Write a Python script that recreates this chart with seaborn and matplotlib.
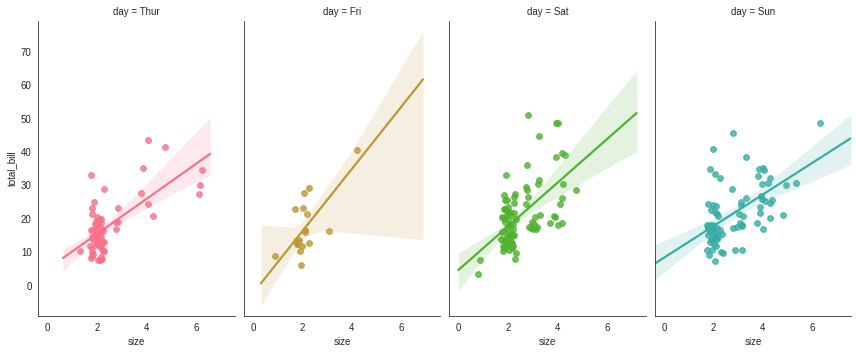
import numpy as np
import matplotlib
matplotlib.use("Agg")
import matplotlib.pyplot as plt
import seaborn as sns

days = ["Thur", "Fri", "Sat", "Sun"]

# x positions as displayed (party size with jitter) and total bill
thur_x = [1.31, 1.76, 2.28, 1.88, 1.79, 1.79, 2.85, 2.76, 2.83, 2.77,
          4.06, 3.86, 3.78, 4.06, 4.26, 4.74, 6.23, 6.16, 6.12,
          2.02, 2.12, 2.18, 1.95, 2.05, 2.15, 1.90, 2.00, 2.10, 1.97,
          1.75, 1.82, 2.25, 2.20, 1.92, 2.05, 2.13, 1.85, 2.00, 2.18,
          1.80, 2.08, 1.95, 2.22, 2.28, 1.88, 2.02, 2.15, 1.73, 2.10,
          1.78, 2.20, 2.30, 2.25, 1.80, 1.84, 2.18, 1.78, 1.76, 2.22,
          2.05, 2.12, 1.98]
thur_bill = [10.4, 33.1, 28.8, 25.0, 23.1, 21.3, 23.1, 18.9, 18.9, 16.9,
             43.5, 35.1, 27.7, 24.4, 20.8, 41.5, 34.5, 30.0, 27.4,
             20.4, 20.0, 19.8, 19.2, 19.0, 18.6, 18.3, 18.0, 17.5, 17.0,
             16.7, 16.5, 16.4, 16.8, 16.0, 15.8, 15.5, 15.2, 14.8, 14.5,
             14.2, 14.0, 13.6, 13.2, 13.0, 13.0, 12.6, 12.2, 12.0, 11.8,
             11.3, 11.0, 10.5, 10.4, 10.2, 9.6, 8.6, 8.8, 8.4, 8.0,
             7.8, 7.6, 13.8]

fri_x = [4.20, 2.26, 2.06, 1.70, 2.02, 2.18, 2.10, 2.10, 3.07, 1.86,
         1.72, 1.76, 1.99, 2.26, 1.90, 0.89, 1.94, 1.80, 1.83]
fri_bill = [40.5, 29.1, 27.6, 22.8, 23.1, 21.3, 16.7, 16.0, 16.4, 13.7,
            13.5, 12.4, 11.9, 12.7, 10.4, 8.9, 6.1, 13.0, 12.6]

sat_x = [0.87, 0.79, 4.74,
         3.96, 4.04, 4.18, 4.31, 3.94, 4.23, 4.19, 4.10, 3.86, 3.92, 3.72, 4.18, 4.02,
         2.81, 3.25, 2.77, 3.25, 3.21, 2.73, 2.77, 2.81, 2.75, 3.29, 3.09, 2.98, 3.05,
         2.87, 2.93, 3.02, 3.12, 3.18,
         1.92, 2.28, 2.24, 1.83, 1.87, 1.97, 2.24, 1.85, 1.92, 1.88, 2.24, 2.06,
         1.80, 1.86, 1.76, 2.34, 2.06, 2.19, 1.77, 1.97, 2.10, 2.19, 2.04, 1.73,
         1.83, 1.76, 2.11, 2.18, 2.08, 1.78, 1.90, 1.84, 2.20, 2.18, 2.32, 2.28,
         2.00, 2.10, 1.95, 2.15, 2.02, 1.90, 2.12, 1.98, 2.22, 1.85, 2.08, 2.25,
         1.92, 2.00, 1.95, 2.05, 1.80]
sat_bill = [7.6, 3.4, 28.6,
            48.6, 48.6, 39.6, 39.0, 38.4, 30.4, 26.1, 24.3, 20.9, 20.6, 18.6, 18.6, 18.0,
            51.0, 44.8, 36.0, 31.6, 30.4, 29.4, 28.6, 26.6, 24.3, 21.0, 20.5, 19.1, 18.3,
            17.6, 17.2, 16.9, 17.0, 17.4,
            33.0, 27.3, 26.6, 27.0, 25.6, 25.6, 24.6, 22.8, 22.6, 23.0, 21.8, 21.8,
            20.3, 20.1, 20.4, 20.0, 18.4, 18.4, 15.9, 15.5, 15.1, 14.7, 14.8, 14.0,
            13.7, 13.6, 13.2, 12.8, 12.5, 11.8, 11.6, 11.3, 11.8, 11.3, 9.9, 7.9,
            23.5, 22.0, 21.0, 20.8, 19.5, 19.0, 17.8, 17.2, 16.8, 16.4, 16.0, 15.0,
            14.3, 13.4, 12.7, 10.6, 10.3]

sun_x = [6.33, 4.95, 5.33, 4.80,
         2.79, 1.98, 3.31, 1.86, 2.07, 2.26, 3.83, 4.02, 4.04, 3.80, 4.28, 4.20,
         3.98, 2.75, 3.31, 3.11, 3.10, 3.94, 3.98, 4.08, 4.35, 4.28, 3.88, 3.88,
         1.77, 2.00, 2.09, 1.90, 2.06, 2.13, 2.20, 3.04, 3.20, 4.28, 3.78, 4.00,
         3.07, 3.14, 3.16, 2.80, 2.94,
         1.73, 1.86, 2.00, 1.79, 1.93, 2.06, 1.86, 2.00, 1.90, 2.06, 2.20, 2.33,
         1.96, 1.86, 1.80, 2.15, 2.25, 1.95, 2.10, 1.78, 2.15, 2.02,
         1.76, 1.93, 1.84, 2.31, 2.38, 2.07, 2.87, 3.16, 2.12]
sun_bill = [48.6, 30.0, 30.6, 21.0,
            45.6, 40.8, 38.4, 34.8, 33.4, 32.1, 35.0, 35.3, 34.7, 32.7, 32.1, 30.6,
            30.4, 28.8, 26.1, 24.9, 24.2, 26.9, 25.9, 25.3, 25.6, 24.8, 23.6, 21.6,
            24.5, 24.2, 23.9, 22.6, 22.0, 21.4, 20.8, 21.3, 20.8, 20.2, 18.7, 17.0,
            18.7, 18.2, 17.7, 17.1, 17.5,
            18.2, 18.2, 18.0, 17.1, 16.9, 16.4, 16.0, 15.3, 14.1, 14.6, 14.6, 15.3,
            13.6, 13.1, 17.6, 17.3, 16.7, 15.8, 15.6, 15.0, 13.9, 12.6,
            10.6, 10.6, 9.1, 10.0, 9.8, 7.5, 10.7, 10.7, 12.0]

xs = {"Thur": thur_x, "Fri": fri_x, "Sat": sat_x, "Sun": sun_x}
bills = {"Thur": thur_bill, "Fri": fri_bill, "Sat": sat_bill, "Sun": sun_bill}

x_ticks = [0, 2, 4, 6]
y_ticks = [0, 10, 20, 30, 40, 50, 60, 70]

sns.set_style("white")
plt.rcParams["font.family"] = ["Liberation Sans", "DejaVu Sans"]
plt.rcParams["font.size"] = 10
palette = sns.color_palette("husl", 6)[:4]

DPI = 70
fig, axes = plt.subplots(1, 4, figsize=(857 / DPI, 353 / DPI), dpi=DPI,
                         sharex=True, sharey=True)
fig.subplots_adjust(left=38.5 / 857, right=851 / 857, bottom=1 - 316 / 353,
                    top=1 - 20.7 / 353, wspace=0.048)

# successive x-ranges over which each facet's regression is extended
lo, hi = 0.62, 6.58
for ax, day, color in zip(axes, days, palette):
    x = np.asarray(xs[day], dtype=float)
    y = np.asarray(bills[day], dtype=float)
    sns.regplot(x=x, y=y, fit_reg=False, color=color, ax=ax)
    ax.set_xlim(lo, hi)
    sns.regplot(x=np.rint(x), y=y, scatter=False, truncate=False,
                color=color, ax=ax, seed=0)
    last = (lo, hi)
    pad = 0.05 * (hi - lo)
    lo, hi = lo - pad, hi + pad

axes[0].set_xlim(*last)
axes[0].set_ylim(-9.1, 79.3)
axes[0].set_xticks(x_ticks)
axes[0].set_yticks(y_ticks)
for ax, day in zip(axes, days):
    ax.set_title(f"day = {day}", fontsize=10, color=".15")
    ax.set_xlabel("size", fontsize=10)
axes[0].set_ylabel("total_bill", fontsize=10)
for ax in axes[1:]:
    ax.set_ylabel("")
sns.despine(fig=fig)

fig.savefig("out.png", dpi=DPI)
